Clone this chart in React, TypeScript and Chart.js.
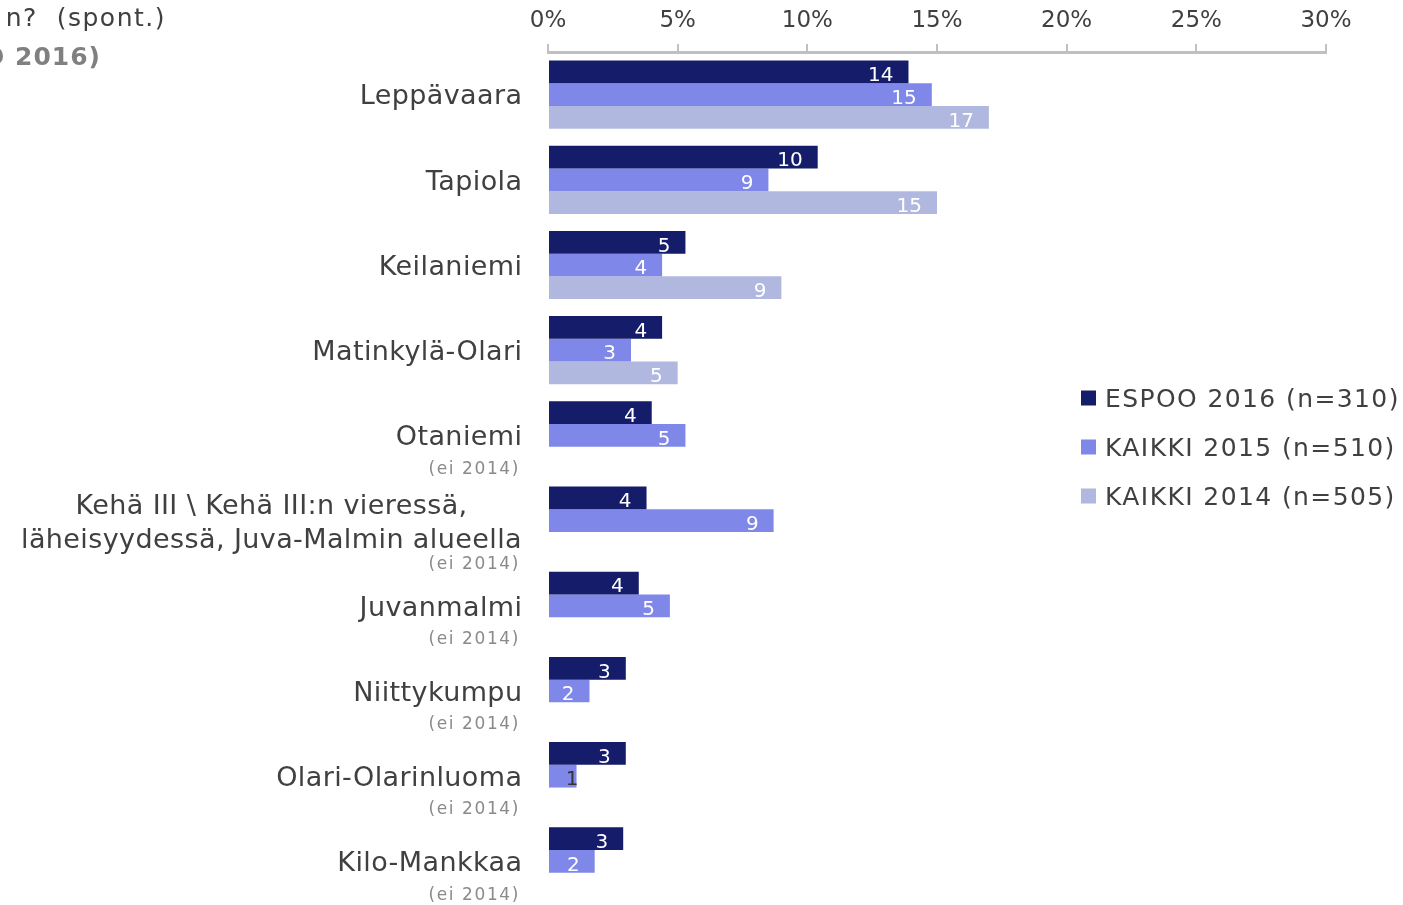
import React, { useEffect, useRef } from "react";
import { Chart, registerables } from "chart.js";

Chart.register(...registerables);

const FONT = "'DejaVu Sans', Verdana, sans-serif";

// Category labels (lines) and the small note under some of them
const categoryLines: string[][] = [
  ["Leppävaara"],
  ["Tapiola"],
  ["Keilaniemi"],
  ["Matinkylä-Olari"],
  ["Otaniemi"],
  ["Kehä III \\ Kehä III:n vieressä,", "läheisyydessä, Juva-Malmin alueella"],
  ["Juvanmalmi"],
  ["Niittykumpu"],
  ["Olari-Olarinluoma"],
  ["Kilo-Mankkaa"],
];
const categoryNotes: string[] = ["", "", "", "", "(ei 2014)", "(ei 2014)", "(ei 2014)", "(ei 2014)", "(ei 2014)", "(ei 2014)"];

// Series values (%)
const espoo2016: (number | null)[] = [13.9, 10.4, 5.3, 4.4, 4.0, 3.8, 3.5, 3.0, 3.0, 2.9];
const kaikki2015: (number | null)[] = [14.8, 8.5, 4.4, 3.2, 5.3, 8.7, 4.7, 1.6, 1.1, 1.8];
const kaikki2014: (number | null)[] = [17.0, 15.0, 9.0, 5.0, null, null, null, null, null, null];

const seriesNames = ["ESPOO 2016 (n=310)", "KAIKKI 2015 (n=510)", "KAIKKI 2014 (n=505)"];
const seriesColors = ["#151C6A", "#7F88E8", "#B1B8DF"];

// Axis
const xMin = 0;
const xMax = 30;
const xStep = 5;

// Title fragments visible at the top-left
const titleLine1 = "n?  (spont.)";
const titleLine2 = "(ESPOO 2016)";

const textPlugin = {
  id: "customText",
  afterDatasetsDraw(chart: any) {
    const ctx = chart.ctx;
    ctx.save();
    ctx.font = `20px ${FONT}`;
    ctx.textBaseline = "alphabetic";
    chart.data.datasets.forEach((ds: any, di: number) => {
      const meta = chart.getDatasetMeta(di);
      meta.data.forEach((el: any, i: number) => {
        const v = ds.data[i];
        if (v === null || v === undefined) return;
        const { x, y, base } = el.getProps(["x", "y", "base"], true);
        const label = String(Math.round(v));
        const w = x - base;
        const baseline = y + 2 + (0.729 * 20) / 2;
        ctx.textAlign = "right";
        if (w < 35) {
          ctx.fillStyle = "#333333";
          ctx.fillText(label, x + 2, baseline);
        } else {
          ctx.fillStyle = "#ffffff";
          ctx.fillText(label, x - 15, baseline);
        }
      });
    });
    ctx.restore();
  },
  afterDraw(chart: any) {
    const ctx = chart.ctx;
    const yScale = chart.scales.y;
    ctx.save();
    // category labels
    const labelRight = 522;
    categoryLines.forEach((lines, i) => {
      const cy = yScale.getPixelForValue(i);
      ctx.fillStyle = "#404040";
      ctx.font = `27px ${FONT}`;
      (ctx as any).letterSpacing = "0.4px";
      const cap = 0.729 * 27;
      if (lines.length === 1) {
        ctx.textAlign = "right";
        ctx.fillText(lines[0], labelRight + 0.4, cy + cap / 2);
      } else {
        const widths = lines.map((l) => ctx.measureText(l).width);
        const maxW = Math.max(...widths);
        const centerX = labelRight - maxW / 2;
        ctx.textAlign = "center";
        const spacing = 34;
        lines.forEach((l, li) => {
          const ly = cy + (li - (lines.length - 1) / 2) * spacing;
          ctx.fillText(l, centerX, ly + 1 + cap / 2);
        });
      }
      const note = categoryNotes[i];
      if (note) {
        ctx.fillStyle = "#8a8a8a";
        ctx.font = `17px ${FONT}`;
        (ctx as any).letterSpacing = "1.6px";
        ctx.textAlign = "right";
        const off = lines.length > 1 ? 42 : 32;
        ctx.fillText(note, 520, cy + off + (0.729 * 17) / 2);
      }
      (ctx as any).letterSpacing = "0px";
    });

    // legend
    const legX = 1081;
    const legY0 = 398;
    const legStep = 49;
    ctx.font = `25px ${FONT}`;
    (ctx as any).letterSpacing = "1.4px";
    ctx.textAlign = "left";
    chart.data.datasets.forEach((ds: any, di: number) => {
      const cy = legY0 + di * legStep;
      ctx.fillStyle = ds.backgroundColor;
      ctx.fillRect(legX, cy - 7.5, 15, 15);
      ctx.fillStyle = "#404040";
      ctx.fillText(ds.label, 1105, cy + (0.729 * 25) / 2);
    });

    // title fragments
    (ctx as any).letterSpacing = "1.5px";
    ctx.textAlign = "right";
    ctx.fillStyle = "#404040";
    ctx.font = `25px ${FONT}`;
    ctx.fillText(titleLine1, 166, 17 + (0.729 * 25) / 2);
    (ctx as any).letterSpacing = "1px";
    ctx.fillStyle = "#808080";
    ctx.font = `bold 25px ${FONT}`;
    ctx.fillText(titleLine2, 101, 56 + (0.729 * 25) / 2);
    (ctx as any).letterSpacing = "0px";
    ctx.restore();
  },
};

export default function App() {
  const ref = useRef<HTMLCanvasElement | null>(null);
  useEffect(() => {
    if (!ref.current) return;
    const chart = new Chart(ref.current, {
      type: "bar",
      data: {
        labels: categoryLines.map((l) => l.join(" ")),
        datasets: [
          { label: seriesNames[0], data: espoo2016, backgroundColor: seriesColors[0] },
          { label: seriesNames[1], data: kaikki2015, backgroundColor: seriesColors[1] },
          { label: seriesNames[2], data: kaikki2014, backgroundColor: seriesColors[2] },
        ] as any,
      },
      options: {
        indexAxis: "y",
        animation: false,
        responsive: false,
        devicePixelRatio: 1,
        layout: { padding: { left: 0, right: 77, top: 0, bottom: 1 } },
        datasets: { bar: { categoryPercentage: 0.8, barPercentage: 1 } },
        plugins: {
          legend: { display: false },
          tooltip: { enabled: false },
          title: { display: false },
        },
        scales: {
          x: {
            position: "top",
            min: xMin,
            max: xMax,
            ticks: {
              stepSize: xStep,
              callback: (v: any) => `${v}%`,
              font: { family: FONT, size: 23 },
              color: "#404040",
              padding: 9,
              maxRotation: 0,
              autoSkip: false,
            },
            grid: {
              drawOnChartArea: false,
              drawTicks: true,
              tickLength: 8,
              color: "#c0c0c0",
              lineWidth: 2,
            },
            border: { display: true, color: "#c0c0c0", width: 3 },
            afterFit: (s: any) => {
              s.height = 52;
            },
          },
          y: {
            ticks: { display: false },
            grid: { display: false },
            border: { display: false },
            afterFit: (s: any) => {
              s.width = 548;
            },
          },
        },
      } as any,
      plugins: [textPlugin],
    });
    return () => chart.destroy();
  }, []);
  return (
    <div style={{ position: "absolute", left: 0, top: 0, width: 1403, height: 905, background: "#fff" }}>
      <canvas ref={ref} width={1403} height={905} style={{ display: "block" }} />
    </div>
  );
}
